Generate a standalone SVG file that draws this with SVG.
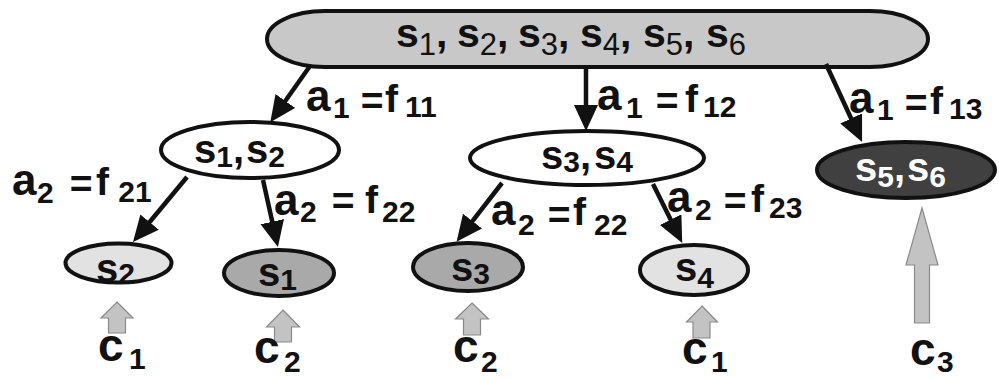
<svg xmlns="http://www.w3.org/2000/svg" width="999" height="379" viewBox="0 0 999 379">
<defs>
<style>
text{font-family:"Liberation Sans",Arial,sans-serif;font-weight:bold;fill:#111}
.node{stroke:#111;stroke-width:4}
.white{fill:#fff}.top{fill:#c8c8c8}.light{fill:#e2e2e2}.mid{fill:#a9a9a9}.dark{fill:#404040}
.s{font-size:41px}.ns{font-size:40px}.sub{font-size:30px}.tsub{font-size:31px;font-weight:normal}
.a{font-size:44px}.f{font-size:39px}.c{font-size:46px}
.wt{fill:#fff}
.edge{stroke:#111;stroke-width:4.5;fill:none;marker-end:url(#ah)}
.up{fill:#c3c3c3;stroke:#8a8a8a;stroke-width:1.2}
</style>
<marker id="ah" markerUnits="userSpaceOnUse" markerWidth="28" markerHeight="26" refX="8" refY="12" orient="auto">
<path d="M0,0 L26,12 L0,24 z" fill="#111"/>
</marker>
</defs>
<g id="n_all">
<path class="node top" d="M325,11 H870 A58,28 0 0 1 870,67 H325 A58,28 0 0 1 325,11 Z"/>
<text class="s"><tspan x="396" y="47">s</tspan><tspan class="tsub" y="55">1</tspan><tspan y="47">,</tspan><tspan x="457" y="47">s</tspan><tspan class="tsub" y="55">2</tspan><tspan y="47">,</tspan><tspan x="518" y="47">s</tspan><tspan class="tsub" y="55">3</tspan><tspan y="47">,</tspan><tspan x="580" y="47">s</tspan><tspan class="tsub" y="55">4</tspan><tspan y="47">,</tspan><tspan x="643" y="47">s</tspan><tspan class="tsub" y="55">5</tspan><tspan y="47">,</tspan><tspan x="706" y="47">s</tspan><tspan class="tsub" y="55">6</tspan></text>
</g>
<g id="n_s1s2">
<ellipse class="node white" cx="250" cy="150" rx="89" ry="28"/>
<text class="ns"><tspan x="194" y="163">s</tspan><tspan class="sub" y="167">1</tspan><tspan y="163">,</tspan><tspan x="246" y="163">s</tspan><tspan class="sub" y="167">2</tspan></text>
</g>
<g id="n_s3s4">
<ellipse class="node white" cx="587" cy="158" rx="117" ry="27"/>
<text class="ns"><tspan x="541" y="169">s</tspan><tspan class="sub" y="172">3</tspan><tspan y="169">,</tspan><tspan x="594" y="169">s</tspan><tspan class="sub" y="172">4</tspan></text>
</g>
<g id="n_s5s6">
<ellipse class="node dark" cx="906" cy="170" rx="89" ry="28"/>
<text class="ns wt"><tspan x="855" y="181" class="wt">s</tspan><tspan class="sub wt" y="187">5</tspan><tspan y="181" class="wt">,</tspan><tspan x="907" y="181" class="wt">s</tspan><tspan class="sub wt" y="187">6</tspan></text>
</g>
<g id="n_s2">
<ellipse class="node light" cx="118.5" cy="263" rx="53" ry="19.5"/>
<text class="ns"><tspan x="96" y="282">s</tspan><tspan class="sub" y="284">2</tspan></text>
</g>
<g id="n_s1">
<ellipse class="node mid" cx="279" cy="273" rx="55" ry="23"/>
<text class="ns"><tspan x="258" y="286">s</tspan><tspan class="sub" y="290">1</tspan></text>
</g>
<g id="n_s3">
<ellipse class="node mid" cx="468" cy="267" rx="55" ry="24"/>
<text class="ns"><tspan x="451" y="281">s</tspan><tspan class="sub" y="284">3</tspan></text>
</g>
<g id="n_s4">
<ellipse class="node light" cx="694" cy="270" rx="54" ry="25"/>
<text class="ns"><tspan x="675" y="281">s</tspan><tspan class="sub" y="288">4</tspan></text>
</g>
<g id="connectors">
<path class="edge" d="M310,66 L280.7,107.5"/>
<path class="edge" d="M586,67 L586,113"/>
<path class="edge" d="M826,64 L854.5,125.7"/>
<path class="edge" d="M187,177 L144.5,228.2"/>
<path class="edge" d="M263,180 L274,229.5"/>
<path class="edge" d="M502,183 L467.6,227.4"/>
<path class="edge" d="M653,184 L674.2,226.8"/>
</g>
<g id="labels">
<text><tspan class="a" x="306" y="111">a</tspan><tspan class="sub" x="333" y="118">1</tspan><tspan class="f" x="350" y="114"> =</tspan><tspan class="f" x="385" y="112">f</tspan><tspan class="sub" x="405" y="117">11</tspan></text>
<text><tspan class="a" x="597" y="110">a</tspan><tspan class="sub" x="626" y="118">1</tspan><tspan class="f" x="645" y="114"> =</tspan><tspan class="f" x="685" y="112">f</tspan><tspan class="sub" x="703" y="117">12</tspan></text>
<text><tspan class="a" x="849" y="113">a</tspan><tspan class="sub" x="877" y="120">1</tspan><tspan class="f" x="894" y="116"> =</tspan><tspan class="f" x="930" y="114">f</tspan><tspan class="sub" x="949" y="119">13</tspan></text>
<text><tspan class="a" x="12" y="195">a</tspan><tspan class="sub" x="37" y="203">2</tspan><tspan class="f" x="59" y="197"> =</tspan><tspan class="f" x="96" y="195">f</tspan><tspan class="sub" x="110" y="202"> 21</tspan></text>
<text><tspan class="a" x="274" y="215">a</tspan><tspan class="sub" x="300" y="222">2</tspan><tspan class="f" x="321" y="214"> =</tspan><tspan class="f" x="365" y="213">f</tspan><tspan class="sub" x="382" y="222">22</tspan></text>
<text><tspan class="a" x="491" y="225">a</tspan><tspan class="sub" x="518" y="235">2</tspan><tspan class="f" x="537" y="228"> =</tspan><tspan class="f" x="573" y="225">f</tspan><tspan class="sub" x="594" y="235">22</tspan></text>
<text><tspan class="a" x="667" y="212">a</tspan><tspan class="sub" x="695" y="220">2</tspan><tspan class="f" x="713" y="214"> =</tspan><tspan class="f" x="751" y="212">f</tspan><tspan class="sub" x="769" y="218">23</tspan></text>
</g>
<g id="classes">
<polygon class="up" points="117,302 133,318 125.5,318 125.5,333 108.5,333 108.5,318 101,318"/>
<polygon class="up" points="283,310 299.5,327 291.5,327 291.5,342 274.5,342 274.5,327 266.5,327"/>
<polygon class="up" points="472,303 488.5,319 480.5,319 480.5,335 463.5,335 463.5,319 455.5,319"/>
<polygon class="up" points="702,306 717.5,322 710,322 710,338 693,338 693,322 686.5,322"/>
<polygon class="up" points="922,208 938,265 929.5,265 929.5,323 914.5,323 914.5,265 906,265"/>
<text><tspan class="c" x="98" y="361">c</tspan><tspan class="sub" x="129" y="369">1</tspan></text>
<text><tspan class="c" x="254" y="363">c</tspan><tspan class="sub" x="284" y="372">2</tspan></text>
<text><tspan class="c" x="453" y="362">c</tspan><tspan class="sub" x="481" y="372">2</tspan></text>
<text><tspan class="c" x="682" y="364">c</tspan><tspan class="sub" x="711" y="372">1</tspan></text>
<text><tspan class="c" x="910" y="365">c</tspan><tspan class="sub" x="937" y="372">3</tspan></text>
</g>
</svg>
